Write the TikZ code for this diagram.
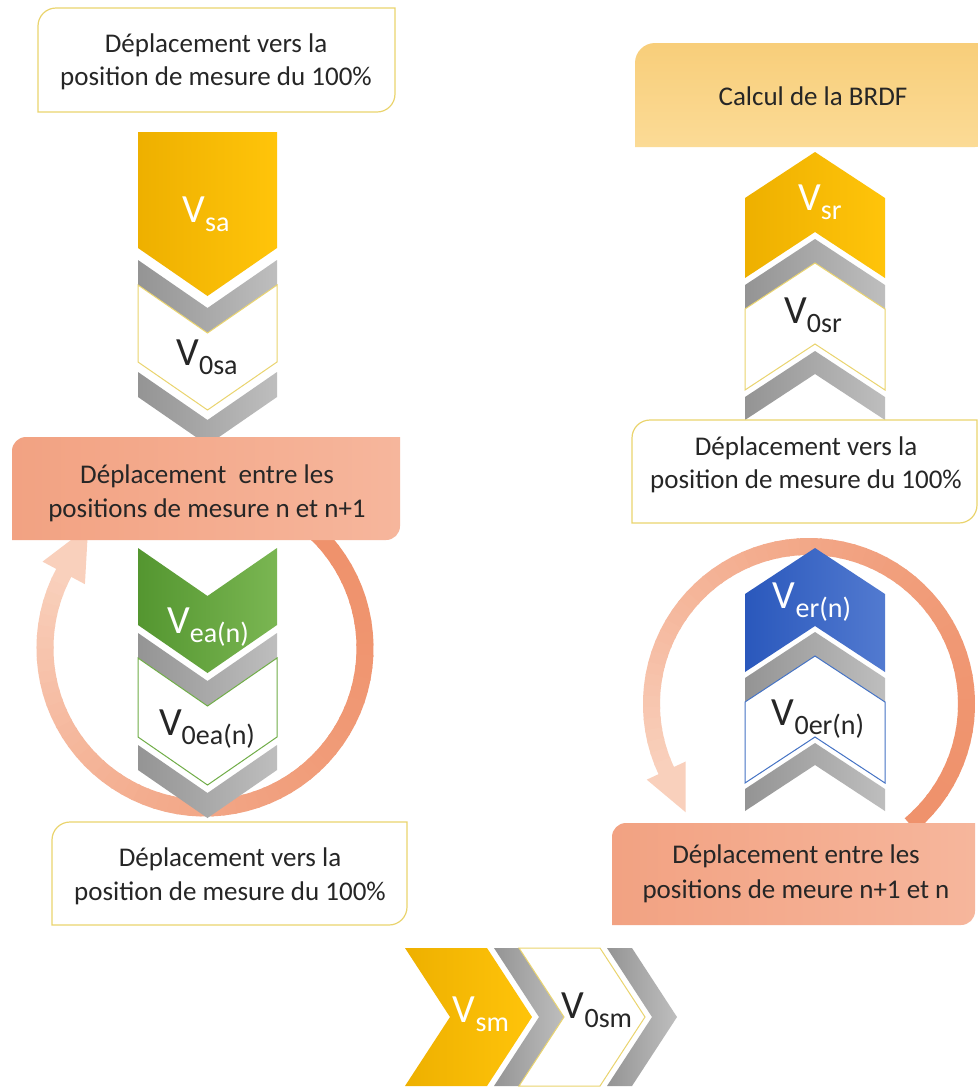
\documentclass[tikz,border=0pt]{standalone}
\usepackage{fontspec}
\setmainfont{Carlito}
\definecolor{boxline}{RGB}{234,212,110}
\definecolor{yelA}{RGB}{238,176,0}
\definecolor{yelB}{RGB}{255,196,10}
\definecolor{grnA}{RGB}{84,150,48}
\definecolor{grnB}{RGB}{122,182,82}
\definecolor{grnL}{RGB}{112,173,71}
\definecolor{bluA}{RGB}{42,88,188}
\definecolor{bluB}{RGB}{82,122,208}
\definecolor{bluL}{RGB}{68,114,196}
\definecolor{gryA}{RGB}{148,148,148}
\definecolor{gryB}{RGB}{190,190,190}
\definecolor{orgA}{RGB}{242,162,130}
\definecolor{orgB}{RGB}{246,182,156}
\definecolor{brdfA}{RGB}{248,206,122}
\definecolor{brdfB}{RGB}{251,219,150}
\definecolor{ringA}{RGB}{239,146,108}
\definecolor{ringB}{RGB}{249,208,188}
\definecolor{txt}{RGB}{38,38,38}
\newcommand\downchev[3]{\path[#1] (138,-#2) -- (207.5,{-(#2+48)}) -- (277,-#2) -- (277,-#3) -- (207.5,{-(#3+48)}) -- (138,-#3) -- cycle;}
\newcommand\upchev[3]{\path[#1] (745,-#2) -- (815,{-(#2-46)}) -- (885,-#2) -- (885,-#3) -- (815,{-(#3-46)}) -- (745,-#3) -- cycle;}
\newcommand\rightchev[3]{\path[#1] (#2,-948) -- (#3,-948) -- ({#3+45},-1017) -- (#3,-1086) -- (#2,-1086) -- ({#2+45},-1017) -- cycle;}
\newcommand\diagbox[6]{\path[#1] (#2,-#5) -- (#2,{-(#3+#6)}) arc[start angle=180,end angle=90,radius=#6pt] -- (#4,-#3) -- (#4,{-(#5-#6)}) arc[start angle=0,end angle=-90,radius=#6pt] -- cycle;}
\newcommand\vlab[1]{{\fontsize{40}{40}\selectfont V}\raisebox{-9pt}{\fontsize{28}{28}\selectfont #1}}
\tikzset{
  boxtxt/.style={anchor=base, text=txt, font=\fontsize{27}{33}\selectfont, inner sep=0pt},
  lab/.style={anchor=base, inner sep=0pt},
  whitebox/.style={fill=white, draw=boxline, line width=1.2pt},
  orangebox/.style={left color=orgA, right color=orgB},
  graychev/.style={left color=gryA, right color=gryB},
  yelchev/.style={left color=yelA, right color=yelB},
}
\begin{document}
\begin{tikzpicture}[x=1pt,y=1pt]
\fill[white] (0,0) rectangle (978,-1088);
\useasboundingbox (0,0) rectangle (978,-1088);
% ---------- rings ----------
\foreach \i in {0,...,63}{
  \pgfmathsetmacro\aa{50-258*\i/64}
  \pgfmathsetmacro\bb{\aa-258/64-0.8}
  \pgfmathsetmacro\pp{100*(1-(\i/63)^1.8)}
  \draw[line width=17pt, color=ringA!\pp!ringB] ({205+160*cos(\aa)},{-648+160*sin(\aa)}) arc[start angle=\aa, end angle=\bb, radius=160pt];
}
\fill[ringB] ({205+184*cos(152)},{-648+184*sin(152)}) -- ({205+136*cos(152)},{-648+136*sin(152)}) -- ({205+160*cos(152)+52*sin(152)},{-648+160*sin(152)-52*cos(152)}) -- cycle;
\foreach \i in {0,...,63}{
  \pgfmathsetmacro\aa{-50+255*\i/64}
  \pgfmathsetmacro\bb{\aa+255/64+0.8}
  \pgfmathsetmacro\pp{100*(1-(\i/63)^1.8)}
  \draw[line width=17pt, color=ringA!\pp!ringB] ({809+157.5*cos(\aa)},{-704+157.5*sin(\aa)}) arc[start angle=\aa, end angle=\bb, radius=157.5pt];
}
\fill[ringB] ({809+179*cos(205)},{-704+179*sin(205)}) -- ({809+136*cos(205)},{-704+136*sin(205)}) -- ({809+157.5*cos(205)-46*sin(205)},{-704+157.5*sin(205)+46*cos(205)}) -- cycle;
% ---------- left column chevrons ----------
\path[yelchev] (138,-132) -- (277,-132) -- (277,-248) -- (207.5,-296) -- (138,-248) -- cycle;
\downchev{graychev}{260}{285}
\downchev{fill=white, draw=boxline, line width=1pt}{285}{362}
\downchev{graychev}{372}{397}
\downchev{left color=grnA, right color=grnB}{548}{625}
\downchev{graychev}{633}{658}
\downchev{fill=white, draw=grnL, line width=1pt}{658}{737}
\downchev{graychev}{745}{770}
% ---------- right column chevrons ----------
\upchev{yelchev}{198}{278}
\upchev{graychev}{285}{309}
\upchev{fill=white, draw=boxline, line width=1pt}{309}{390}
\upchev{graychev}{397}{420}
\upchev{left color=bluA, right color=bluB}{594}{672}
\upchev{graychev}{678}{702}
\upchev{fill=white, draw=bluL, line width=1pt}{702}{783}
\upchev{graychev}{789}{811}
% ---------- bottom chevrons ----------
\rightchev{yelchev}{405}{487}
\rightchev{graychev}{494}{519}
\rightchev{fill=white, draw=boxline, line width=1pt}{519}{600}
\rightchev{graychev}{607}{632}
% ---------- boxes ----------
\diagbox{whitebox}{38}{8}{395}{112}{18}
\diagbox{orangebox}{12}{437}{400}{540}{14}
\diagbox{whitebox}{52}{822}{407}{925}{18}
\diagbox{top color=brdfA, bottom color=brdfB}{635}{43}{995}{147}{20}
\diagbox{whitebox}{632}{420}{977}{523}{18}
\diagbox{orangebox}{612}{823}{975}{925}{14}
% ---------- box texts ----------
\node[boxtxt] (t1a) at (216,-52) {Déplacement vers la};
\node[boxtxt] (t1b) at (216,-85) {position de mesure du 100\%};
\node[boxtxt] (t2a) at (207,-483) {Déplacement\ \ entre les};
\node[boxtxt] (t2b) at (207,-517) {positions de mesure n et n+1};
\node[boxtxt] (t3a) at (230,-866) {Déplacement vers la};
\node[boxtxt] (t3b) at (230,-900) {position de mesure du 100\%};
\node[boxtxt] (t4) at (813,-105) {Calcul de la BRDF};
\node[boxtxt] (t5a) at (806,-455) {Déplacement vers la};
\node[boxtxt] (t5b) at (806,-488) {position de mesure du 100\%};
\node[boxtxt] (t6a) at (796,-863) {Déplacement entre les};
\node[boxtxt] (t6b) at (796,-898) {positions de meure n+1 et n};
% ---------- chevron labels ----------
\node[lab, text=white] (vsa) at (206,-222) {\vlab{sa}};
\node[lab, text=txt] (v0sa) at (207,-365) {\vlab{0sa}};
\node[lab, text=white] (vea) at (208,-633) {\vlab{ea(n)}};
\node[lab, text=txt] (v0ea) at (207,-735) {\vlab{0ea(n)}};
\node[lab, text=white] (vsr) at (820,-210) {\vlab{sr}};
\node[lab, text=txt] (v0sr) at (813,-323) {\vlab{0sr}};
\node[lab, text=white] (ver) at (812,-608) {\vlab{er(n)}};
\node[lab, text=txt] (v0er) at (818,-725) {\vlab{0er(n)}};
\node[lab, text=white] (vsm) at (481,-1022) {\vlab{sm}};
\node[lab, text=txt] (v0sm) at (597,-1018) {\vlab{0sm}};
\end{tikzpicture}
\end{document}
